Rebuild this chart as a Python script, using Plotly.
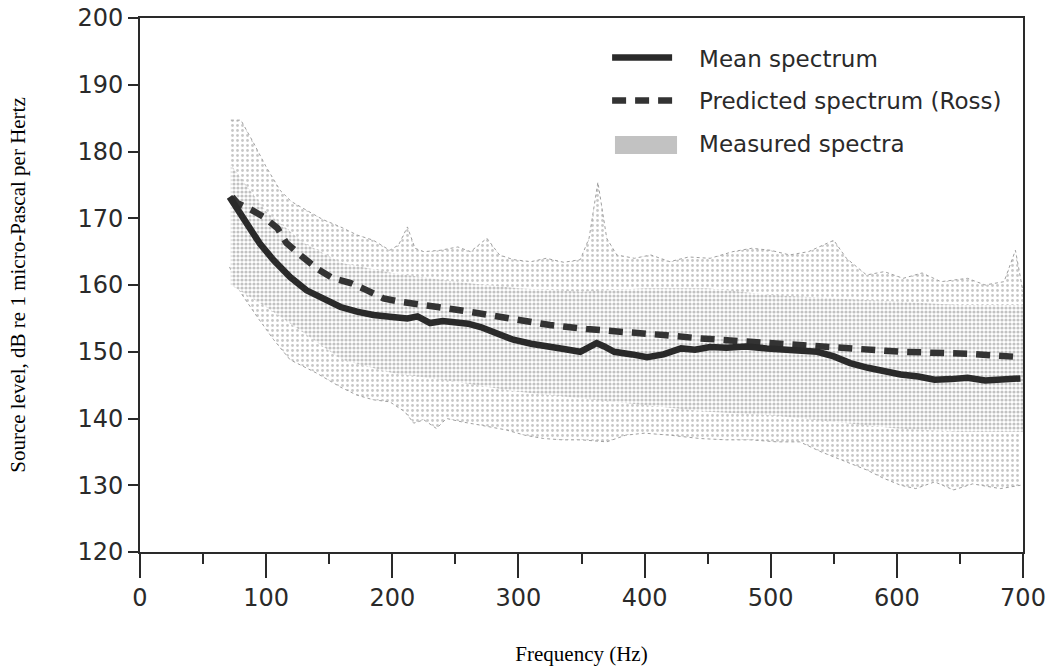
import plotly.graph_objects as go

# ---------------- data ----------------
f_mean = [71, 80, 87, 95, 106, 119, 132, 146, 159, 172, 185, 200, 212, 220, 230, 240, 251, 260,
          270, 283, 296, 310, 323, 336, 349, 356, 362, 368, 376, 390, 402, 415, 429, 440, 452, 465,
          480, 497, 510, 525, 537, 550, 563, 577, 590, 603, 617, 630, 643, 656, 670, 684, 698]
mean_db = [173.2, 170.5, 168.7, 166.2, 163.7, 161.2, 159.2, 157.8, 156.7, 156.0, 155.5, 155.2, 155.0,
           155.3, 154.3, 154.6, 154.5, 154.2, 153.7, 152.8, 151.8, 151.2, 150.7, 150.4, 150.0, 150.6,
           151.3, 150.8, 150.0, 149.6, 149.2, 149.6, 150.5, 150.3, 150.7, 150.6, 150.8, 150.5, 150.4,
           150.3, 150.0, 149.3, 148.3, 147.6, 147.0, 146.6, 146.3, 145.8, 145.9, 146.1, 145.7, 145.9, 146.0]

f_pred = [73, 77, 88, 98, 109, 116, 127, 140, 153, 167, 180, 193, 206, 222, 236, 251, 267, 293,
          325, 354, 386, 415, 444, 500, 555, 603, 656, 698]
pred_db = [173.2, 172.3, 171.3, 170.2, 168.5, 166.3, 164.5, 162.5, 161.0, 160.3, 159.2, 158.0, 157.5,
           157.2, 156.7, 156.3, 155.8, 154.8, 154.0, 153.4, 153.0, 152.5, 152.0, 151.3, 150.7, 150.0,
           149.7, 149.2]

f_upper = [72, 80, 90, 100, 111, 120, 132, 145, 159, 172, 185, 198, 205, 212, 218, 225, 238, 252,
           262, 275, 285, 296, 310, 322, 336, 349, 356, 363, 370, 378, 392, 405, 420, 435, 452, 470,
           485, 500, 515, 530, 550, 560, 576, 590, 605, 620, 635, 656, 670, 685, 694, 700]
upper_db = [184.7, 184.7, 181.3, 177.7, 174.2, 172.5, 171.2, 169.8, 168.7, 167.5, 166.7, 165.2, 166.0,
            168.7, 165.5, 165.0, 165.2, 165.7, 165.0, 167.0, 164.5, 163.8, 163.5, 164.0, 163.4, 163.8,
            167.0, 175.4, 167.0, 164.5, 164.0, 164.5, 163.5, 164.2, 164.0, 165.0, 165.5, 165.2, 164.5,
            165.0, 166.7, 164.0, 161.5, 162.0, 161.0, 161.8, 160.5, 161.0, 160.0, 160.5, 165.2, 159.0]

f_lower = [71, 80, 93, 106, 119, 140, 159, 172, 185, 198, 210, 217, 225, 235, 243, 255, 270, 290,
           305, 320, 335, 350, 370, 385, 400, 420, 444, 465, 484, 505, 523, 540, 560, 576, 590, 603,
           615, 630, 645, 660, 682, 698]
lower_db = [162.7, 158.8, 155.2, 151.8, 148.8, 146.8, 144.7, 143.5, 142.8, 142.5, 141.0, 139.3, 139.8,
            138.5, 140.0, 139.5, 139.0, 138.3, 137.5, 137.0, 136.8, 136.8, 136.5, 137.5, 137.8, 137.5,
            137.0, 136.8, 136.8, 136.5, 136.5, 135.0, 133.5, 132.3, 131.0, 130.0, 129.5, 130.5, 129.3,
            130.2, 129.5, 130.0]

f_core = [72, 100, 130, 160, 200, 250, 300, 350, 400, 450, 500, 550, 600, 650, 700]
core_upper_db = [178, 171, 166.3, 163.3, 161.8, 160.5, 159.5, 159.0, 159.5, 159.5, 158.5, 158.0, 157.5, 157.0, 157.0]
core_lower_db = [160, 156.7, 152.8, 148.8, 146.8, 145.5, 144.0, 143.0, 142.0, 141.0, 140.5, 139.5, 138.5, 138.0, 138.0]

x_ticks = [0, 100, 200, 300, 400, 500, 600, 700]
y_ticks = [120, 130, 140, 150, 160, 170, 180, 190, 200]

INK = "#2a2a2a"
PAD = "\u00a0\u00a0\u00a0"
fig = go.Figure()

# measured spectra: sparse stipple between the outer envelopes
fig.add_trace(go.Scatter(x=f_lower, y=lower_db, mode="lines", showlegend=False, hoverinfo="skip",
                         line=dict(color="#a0a0a0", width=1, dash="dot")))
fig.add_trace(go.Scatter(x=f_upper, y=upper_db, mode="lines", showlegend=False, hoverinfo="skip",
                         line=dict(color="#a0a0a0", width=1, dash="dot"), fill="tonexty",
                         fillpattern=dict(shape=".", fgcolor="#909090", bgcolor="white", size=5, solidity=0.25)))
# denser core
fig.add_trace(go.Scatter(x=f_core, y=core_lower_db, mode="lines", showlegend=False, hoverinfo="skip",
                         line=dict(width=0, color="rgba(0,0,0,0)")))
fig.add_trace(go.Scatter(x=f_core, y=core_upper_db, mode="lines", showlegend=False, hoverinfo="skip",
                         line=dict(width=0, color="rgba(0,0,0,0)"), fill="tonexty",
                         fillpattern=dict(shape=".", fgcolor="#858585", bgcolor="white", size=4, solidity=0.5)))

fig.add_trace(go.Scatter(x=f_pred, y=pred_db, mode="lines", name=PAD + "Predicted spectrum (Ross)",
                         legendgroup="b", legendrank=2,
                         line=dict(color="#333333", width=6.5, dash="14px,9px")))
fig.add_trace(go.Scatter(x=f_mean, y=mean_db, mode="lines", name=PAD + "Mean spectrum",
                         legendgroup="a", legendrank=1,
                         line=dict(color=INK, width=6.5)))
# legend entry for measured spectra (its swatch is the grey box shape below)
fig.add_trace(go.Scatter(x=[None], y=[None], mode="lines", name=PAD + "Measured spectra",
                         legendgroup="c", legendrank=3,
                         line=dict(width=0, color="rgba(0,0,0,0)")))

fig.add_shape(type="rect", xref="paper", yref="paper", x0=0.5379, x1=0.6082, y0=0.7453, y1=0.779,
              fillcolor="#c2c2c2", line=dict(width=0), layer="above")

fig.update_layout(
    width=1057, height=670,
    margin=dict(l=140, r=34, t=18, b=118, autoexpand=False),
    paper_bgcolor="white", plot_bgcolor="white",
    font=dict(family="DejaVu Sans", color=INK),
    legend=dict(x=0.529, xanchor="left", y=0.966, yanchor="top", font=dict(size=23, color=INK),
                itemwidth=60, tracegroupgap=10, bgcolor="rgba(0,0,0,0)", traceorder="grouped"),
    xaxis=dict(range=[0, 700], tickvals=x_ticks, ticks="outside", ticklen=24, tickwidth=2,
               tickcolor=INK, showline=True, linecolor=INK, linewidth=2, mirror=True,
               showgrid=False, zeroline=False, tickfont=dict(size=24, color=INK),
               ticklabelstandoff=-1, automargin=False,
               minor=dict(dtick=50, ticks="outside", ticklen=10, tickwidth=2, tickcolor=INK, showgrid=False),
               title=dict(text="Frequency (Hz)", font=dict(family="Liberation Serif", size=21, color="black"),
                          standoff=36)),
    yaxis=dict(range=[120, 200], tickvals=y_ticks, ticks="outside", ticklen=10, tickwidth=2,
               tickcolor=INK, showline=True, linecolor=INK, linewidth=2, mirror=True,
               showgrid=False, zeroline=False, tickfont=dict(size=24, color=INK), automargin=False,
               title=dict(text="Source level, dB re 1 micro-Pascal per Hertz",
                          font=dict(family="Liberation Serif", size=21, color="black"), standoff=46)),
)

fig.write_html("out.html")
